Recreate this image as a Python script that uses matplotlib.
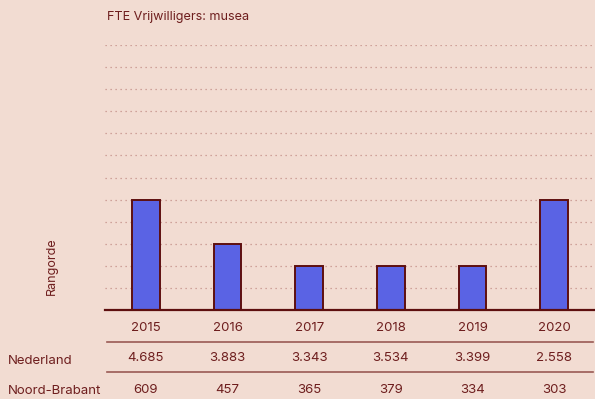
import matplotlib
matplotlib.use("Agg")
import matplotlib.pyplot as plt
from matplotlib.transforms import blended_transform_factory

# Data
years = ["2015", "2016", "2017", "2018", "2019", "2020"]
rank = [5, 3, 2, 2, 2, 5]
nederland = ["4.685", "3.883", "3.343", "3.534", "3.399", "2.558"]
noord_brabant = ["609", "457", "365", "379", "334", "303"]
row_labels = ["Nederland", "Noord-Brabant"]
title = "FTE Vrijwilligers: musea"
ylabel = "Rangorde"

BG = "#F2DCD2"
TXT = "#6E1E1E"
DARK = "#5E0F0F"
BAR = "#5A63E4"
GRID = "#C48F88"

plt.rcParams["font.family"] = ["Inter", "DejaVu Sans"]

W, H = 595, 399
fig = plt.figure(figsize=(W / 100, H / 100), dpi=100, facecolor=BG)

def fy(py):
    return 1 - py / H

ax_left, ax_right = 105 / W, 1.0
ax = fig.add_axes([ax_left, fy(310), ax_right - ax_left, fy(45) - fy(310)])
ax.set_facecolor(BG)
ax.set_xlim(-0.5, len(years) - 0.5)
ax.set_ylim(0, 12)

for s in ax.spines.values():
    s.set_visible(False)
ax.set_xticks([])
ax.set_yticks([])

# dotted gridlines
for g in range(1, 13):
    ax.axhline(g, color=GRID, lw=0.9, linestyle=(0, (1, 3.0)), zorder=0)

x = list(range(len(years)))
ax.bar(x, rank, width=0.34, color=BAR, edgecolor=DARK, linewidth=1.4, zorder=2)
ax.axhline(0, color=DARK, lw=1.6, zorder=3, clip_on=False)

# Title and y label
fig.text(107 / W, fy(17), title, fontsize=9.1, color=TXT, ha="left", va="center")
fig.text(52 / W, fy(266), ylabel, fontsize=9, color=TXT, rotation=90,
         ha="center", va="center")

# Table under the bars
tr = blended_transform_factory(ax.transData, fig.transFigure)
for i, yr in enumerate(years):
    ax.text(i, fy(328), yr, transform=tr, ha="center", va="center",
            fontsize=9.5, color=TXT)
    ax.text(i, fy(358), nederland[i], transform=tr, ha="center", va="center",
            fontsize=9.5, color=TXT)
    ax.text(i, fy(390), noord_brabant[i], transform=tr, ha="center", va="center",
            fontsize=9.5, color=TXT)

fig.text(8 / W, fy(361), row_labels[0], fontsize=9.5, color=TXT, ha="left", va="center")
fig.text(8 / W, fy(391), row_labels[1], fontsize=9.5, color=TXT, ha="left", va="center")

for py in (342, 372):
    fig.add_artist(plt.Line2D([107 / W, 593 / W], [fy(py), fy(py)],
                              color="#9A5A55", lw=1.2, transform=fig.transFigure))

fig.savefig("out.png", dpi=100, facecolor=BG)
